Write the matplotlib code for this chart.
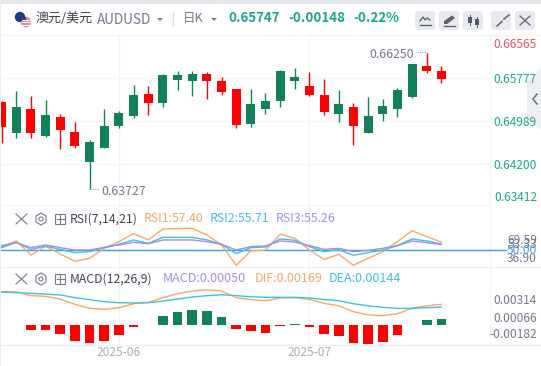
import matplotlib
matplotlib.use('Agg')
import matplotlib.pyplot as plt
from matplotlib.patches import FancyBboxPatch, Circle, Polygon, Rectangle

plt.rcParams['font.family'] = ['Noto Sans CJK SC', 'DejaVu Sans']

# daily candles, green = up, red = down
opens = [0.65339, 0.64765, 0.65209, 0.64710, 0.65061, 0.64784, 0.64228, 0.64488, 0.64895, 0.65080,
         0.65487, 0.65320, 0.65746, 0.65728, 0.65857, 0.65728, 0.65580, 0.64932, 0.65209, 0.65357,
         0.65728, 0.65635, 0.65469, 0.65117, 0.65246, 0.64765, 0.65117, 0.65209, 0.65432, 0.66005, 0.65913]
highs = [0.65357, 0.65543, 0.65450, 0.65376, 0.65117, 0.64969, 0.64636, 0.65209, 0.65172, 0.65654,
         0.65635, 0.65857, 0.65913, 0.65913, 0.65894, 0.65802, 0.65580, 0.65580, 0.65506, 0.65931,
         0.65968, 0.65894, 0.65765, 0.65561, 0.65320, 0.65432, 0.65395, 0.65598, 0.66042, 0.66250, 0.66005]
lows = [0.64586, 0.64673, 0.64673, 0.64691, 0.64469, 0.64488, 0.63727, 0.64488, 0.64858, 0.65043,
        0.65098, 0.65246, 0.65561, 0.65450, 0.65395, 0.65469, 0.64858, 0.64876, 0.65117, 0.65246,
        0.65580, 0.65450, 0.65098, 0.64969, 0.64543, 0.64765, 0.64987, 0.65061, 0.65413, 0.65876, 0.65691]
closes = [0.64882, 0.65246, 0.64765, 0.65098, 0.64821, 0.64525, 0.64599, 0.64895, 0.65135, 0.65469,
          0.65320, 0.65839, 0.65839, 0.65857, 0.65728, 0.65524, 0.64913, 0.65302, 0.65357, 0.65913,
          0.65802, 0.65469, 0.65154, 0.65302, 0.64895, 0.65080, 0.65265, 0.65561, 0.66042, 0.65913, 0.65765]

rsi1 = [53.4, 58.4, 46.0, 53.7, 46.9, 40.4, 43.1, 51.9, 57.8, 64.9, 59.3, 69.0, 69.3, 69.59, 63.7, 54.9,
        36.9, 49.6, 50.4, 64.3, 60.8, 50.4, 42.2, 46.6, 36.9, 43.1, 49.0, 57.8, 67.5, 62.2, 57.4]
rsi2 = [52.5, 57.2, 51.0, 53.7, 51.0, 48.1, 49.0, 52.5, 55.5, 59.3, 56.3, 61.6, 61.6, 61.6, 59.3, 55.5,
        47.2, 52.5, 53.1, 60.2, 59.0, 53.4, 49.0, 50.7, 45.7, 48.1, 50.4, 54.3, 60.2, 58.4, 55.71]
rsi3 = [54.3, 56.9, 52.5, 54.9, 52.5, 50.4, 50.4, 52.8, 54.9, 57.2, 56.0, 59.3, 59.3, 59.3, 57.8, 55.5,
        50.4, 53.4, 54.0, 58.4, 57.5, 54.3, 51.0, 51.9, 49.0, 50.1, 51.9, 54.3, 58.4, 56.9, 55.26]

macd = [0.00002, 0.00002, -0.00043, -0.00043, -0.00077, -0.00137, -0.00154, -0.00137, -0.00086, -0.00017,
        0.00003, 0.00077, 0.00111, 0.00128, 0.00120, 0.00068, -0.00034, -0.00051, -0.00068, -0.00006,
        0.00006, -0.00017, -0.00077, -0.00094, -0.00154, -0.00162, -0.00145, -0.00086, 0.00004, 0.00043, 0.00051]
dif = [0.00285, 0.00285, 0.00251, 0.00245, 0.00222, 0.00177, 0.00143, 0.00134, 0.00148, 0.00182, 0.00194,
       0.00234, 0.00268, 0.00291, 0.00302, 0.00291, 0.00234, 0.00217, 0.00208, 0.00231, 0.00234, 0.00219,
       0.00185, 0.00165, 0.00114, 0.00086, 0.00080, 0.00097, 0.00143, 0.00165, 0.00177]
dea = [0.00282, 0.00276, 0.00271, 0.00265, 0.00257, 0.00234, 0.00217, 0.00200, 0.00191, 0.00188, 0.00191,
       0.00205, 0.00222, 0.00239, 0.00251, 0.00259, 0.00251, 0.00242, 0.00237, 0.00237, 0.00237, 0.00231,
       0.00219, 0.00208, 0.00182, 0.00165, 0.00151, 0.00143, 0.00143, 0.00148, 0.00154]

price_ticks = [0.65777, 0.64989, 0.64200]
price_labels = ['0.66565', '0.65777', '0.64989', '0.64200', '0.63412']
date_pos = [8, 21]
date_labels = ['2025-06', '2025-07']

GREEN = '#138158'
RED = '#ff0000'
TEAL = '#14a88e'
GRID = '#f3f4f6'
GREY = '#73788a'
ORANGE = '#f9a767'
CYAN = '#3cc3dc'
PURPLE = '#a78be6'
BLUE = '#3d9be9'

W, H = 541, 366
fig = plt.figure(figsize=(W / 100, H / 100), dpi=100, facecolor='white')


def panel(top, bottom):
    ax = fig.add_axes([0, 1 - bottom / H, 489 / W, (bottom - top) / H])
    ax.set_xlim(-0.113, 33.25)
    ax.patch.set_alpha(0)
    for s in ax.spines.values():
        s.set_visible(False)
    ax.set_xticks(date_pos)
    ax.set_xticklabels([])
    ax.tick_params(length=0, labelleft=False, left=False, bottom=False)
    ax.grid(axis='x', color=GRID, lw=1)
    ax.set_axisbelow(True)
    return ax


xs = list(range(len(closes)))

# price
ax1 = panel(35, 205)
ax1.set_ylim(0.63432, 0.66579)
ax1.set_yticks(price_ticks)
ax1.grid(axis='y', color=GRID, lw=1)
for i in xs:
    c = GREEN if closes[i] >= opens[i] else RED
    ax1.vlines(i, lows[i], highs[i], color=c, lw=1)
    ax1.bar(i, abs(closes[i] - opens[i]), bottom=min(opens[i], closes[i]), width=0.61, color=c, lw=0)

# rsi
ax2 = panel(205, 267)
ax2.set_ylim(35.4, 90.2)
ax2.axhline(50, color=BLUE, lw=1)
ax2.plot(xs, rsi1, color=ORANGE, lw=1)
ax2.plot(xs, rsi2, color=CYAN, lw=1)
ax2.plot(xs, rsi3, color=PURPLE, lw=1)

# macd
ax3 = panel(267, 344)
ax3.set_ylim(-0.00162, 0.00496)
ax3.set_yticks([])
ax3.plot(xs, dif, color=ORANGE, lw=1)
ax3.plot(xs, dea, color=CYAN, lw=1)
for i in xs:
    h = macd[i]
    ax3.bar(i, h, width=0.66, color=GREEN if h >= 0 else RED, lw=0)

# overlay in pixels for text and toolbar
ov = fig.add_axes([0, 0, 1, 1], zorder=5)
ov.set_xlim(0, W)
ov.set_ylim(H, 0)
ov.axis('off')
ov.patch.set_alpha(0)


def label(x, y, s, color=GREY, size=8.6, ha='left', **kw):
    ov.text(x, y, s, color=color, fontsize=size, ha=ha, va='center', **kw)


# card edge and separators
ov.add_patch(Rectangle((0, 0), W, 3.5, color='#e6e8ee', lw=0))
ov.add_patch(Rectangle((0, 0), 1.2, H, color='#eceef3', lw=0))
ov.plot([0, W], [35, 35], color=GRID, lw=1)
ov.plot([489.5, 489.5], [35, 344], color=GRID, lw=1)
ov.plot([0, 489], [205, 205], color=GRID, lw=1)
ov.plot([0, W], [267, 267], color='#eef0f3', lw=1)
ov.plot([0, W], [344.5, 344.5], color='#eef0f3', lw=1)
ov.plot([489, 506], [250.4, 250.4], color=BLUE, lw=1)

# header
ov.add_patch(Circle((20, 17), 5.2, color='#1f3a7a', lw=0))
ov.add_patch(Circle((26, 22), 5.2, color='#e8868f', lw=0))
for yy in (19.5, 22, 24.5):
    ov.plot([21.5, 30.5], [yy, yy], color='white', lw=0.7)
ov.add_patch(Rectangle((21, 17), 4.5, 3.5, color='#2a3f80', lw=0))
label(35, 18.5, '澳元/美元', '#3a3f4d', 9.4)
label(97, 19.5, 'AUDUSD', GREY, 9.7)
ov.add_patch(Polygon([[157, 18], [163, 18], [160, 21]], color=GREY, lw=0))
ov.plot([173, 173], [13, 25], color='#d9dbe2', lw=1)
label(183, 18.5, '日K', GREY, 9)
ov.add_patch(Polygon([[211, 18], [217, 18], [214, 21]], color=GREY, lw=0))
label(228, 18.5, '0.65747', TEAL, 9.6, fontweight='bold')
label(288, 18.5, '-0.00148', TEAL, 9.6, fontweight='bold')
label(353, 18.5, '-0.22%', TEAL, 9.6, fontweight='bold')

# toolbar buttons
for bx in (415, 439, 463, 491, 515):
    ov.add_patch(FancyBboxPatch((bx + 2, 13), 16, 15, boxstyle='round,pad=2,rounding_size=3',
                                fc='#e8eaf0', ec='none'))
ov.plot([420, 423, 425, 427, 430], [21, 17, 20, 18, 20], color='#555a6b', lw=0.9)
ov.plot([420, 431], [24.5, 24.5], color='#555a6b', lw=0.9)
ov.add_patch(Polygon([[444, 24], [444, 21], [452, 15.5], [455, 18], [447, 24]], color='#5d6272', lw=0))
ov.plot([444, 455], [25.5, 25.5], color='#5d6272', lw=1)
ov.add_patch(Rectangle((468, 17), 3.5, 6, color='#555a6b', lw=0))
ov.plot([469.7, 469.7], [15, 25], color='#555a6b', lw=0.7)
ov.add_patch(Rectangle((475, 19), 3.5, 6, color='#555a6b', lw=0))
ov.plot([476.7, 476.7], [17, 27], color='#555a6b', lw=0.7)
ov.plot([497, 502], [26, 21.5], color='#5d6272', lw=1.1)
ov.plot([504, 509], [19, 15], color='#5d6272', lw=1.1)
ov.plot([520, 530], [16, 25], color='#5d6272', lw=0.9)
ov.plot([530, 520], [16, 25], color='#5d6272', lw=0.9)

# price axis text
label(537, 44, price_labels[0], '#e2525c', ha='right')
for yy, s in zip((79.5, 122.5, 165.5, 197.5), price_labels[1:]):
    label(537, yy, s, TEAL, ha='right')
label(101, 191.5, '0.63727', GREY, 8.9)
ov.plot([90, 99], [189, 189], color=GREY, lw=0.7, ls=(0, (1, 1.5)))
label(369, 54, '0.66250', GREY, 8.9)
ov.plot([417, 427], [52, 52], color=GREY, lw=0.7, ls=(0, (1, 1.5)))

# side handle
ov.add_patch(Polygon([[541, 69], [527, 80], [527, 119], [541, 130]], color='#eceef2', lw=0))
ov.plot([537, 533, 537], [94, 99, 104], color='#6a6f7e', lw=1.1)

# indicator headers
for yy, s in ((219, 'RSI(7,14,21)'), (279, 'MACD(12,26,9)')):
    ov.plot([16, 27], [yy - 5, yy + 5], color=GREY, lw=0.8)
    ov.plot([27, 16], [yy - 5, yy + 5], color=GREY, lw=0.8)
    ov.add_patch(Polygon([[41, yy - 6], [46, yy - 3], [46, yy + 3], [41, yy + 6], [36, yy + 3], [36, yy - 3]],
                         fc='none', ec=GREY, lw=0.8))
    ov.add_patch(Circle((41, yy), 2, fc='none', ec=GREY, lw=0.8))
    ov.add_patch(Rectangle((55, yy - 5.5), 10, 10.5, fc='none', ec=GREY, lw=0.8))
    ov.plot([56.5, 63.5], [yy - 0.3, yy - 0.3], color=GREY, lw=0.8)
    ov.plot([60, 60], [yy - 4, yy + 3.5], color=GREY, lw=0.8)
    label(69.5, yy, s, '#3f4350', 8.8)
label(143.5, 219, 'RSI1:57.40', ORANGE, 8.9)
label(210, 219, 'RSI2:55.71', CYAN, 8.9)
label(276, 219, 'RSI3:55.26', PURPLE, 8.9)
label(163, 279, 'MACD:0.00050', PURPLE, 9)
label(255, 279, 'DIF:0.00169', ORANGE, 9)
label(329, 279, 'DEA:0.00144', CYAN, 9)

# indicator axis text, they overlap in the reference too
label(537, 240, '69.59', GREY, ha='right')
label(537, 245, '53.33', GREY, ha='right')
label(537, 258, '36.90', GREY, ha='right')
label(537, 250, '50.00', BLUE, ha='right')
label(537, 301, '0.00314', GREY, ha='right')
label(537, 318.5, '0.00066', GREY, ha='right')
label(537, 335, '-0.00182', GREY, ha='right')

# date labels
for p, s in zip(date_pos, date_labels):
    px = 1.65 + p * 14.655
    label(px, 352.5, s, '#a9acb8', 8.6, ha='center')

fig.savefig('out.png', dpi=100)
